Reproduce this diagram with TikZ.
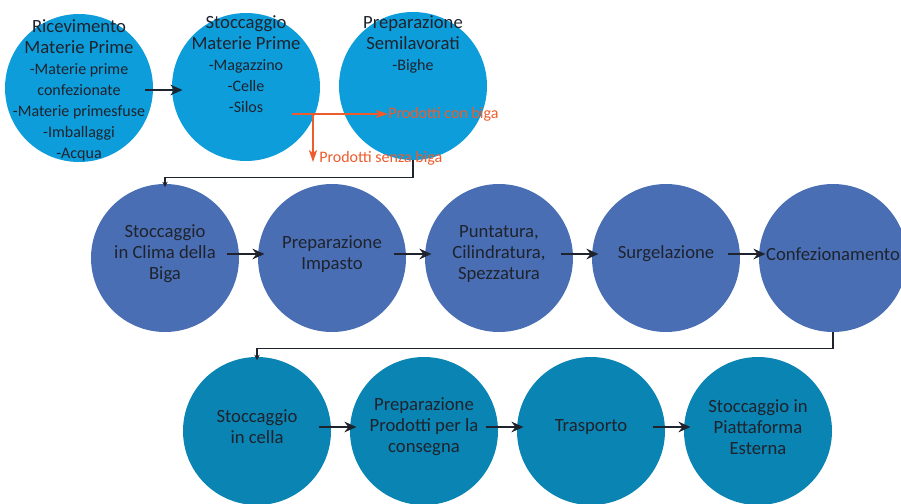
\documentclass[tikz,border=0pt]{standalone}
\usepackage{fontspec}
\setmainfont{Carlito}
\usetikzlibrary{arrows.meta}
\definecolor{rowa}{RGB}{13,157,219}
\definecolor{rowb}{RGB}{74,110,180}
\definecolor{rowc}{RGB}{10,132,178}
\definecolor{biga}{RGB}{237,92,45}
\definecolor{ink}{RGB}{30,35,45}
\newcommand{\itemfont}{\fontsize{12}{15.75}\selectfont}

\begin{document}
\begin{tikzpicture}[x=0.75pt, y=0.75pt,
  stage/.style={circle, minimum size=111pt, inner sep=0pt},
  lbl/.style={align=center, inner sep=0pt, text=ink, font=\fontsize{14}{15.75}\selectfont},
  note/.style={anchor=west, inner sep=0pt, text=biga, font=\fontsize{12}{14}\selectfont},
  flow/.style={->, >={Stealth[length=9pt, width=8pt, inset=3pt]}, line width=1.1pt, ink, shorten <=-9pt, shorten >=-5pt},
  branch/.style={->, >={Stealth[length=9pt, width=6pt, inset=2pt]}, line width=1.1pt, biga},
  link/.style={->, >={Stealth[length=4pt, width=4pt]}, line width=0.8pt, ink, shorten >=-2.5pt}]

\useasboundingbox (0,0) rectangle (901,-504);

\node[stage, fill=rowa] at (79,-88) (a) {};
\node[stage, fill=rowa] at (246,-87) (b) {};
\node[stage, fill=rowa] at (413,-86) (c) {};

\node[lbl, anchor=north] at (79,-19.5) (ta) {Ricevimento\\Materie Prime\\\itemfont -Materie prime\\\itemfont confezionate\\\itemfont -Materie primesfuse\\\itemfont -Imballaggi\\\itemfont -Acqua};
\node[lbl, anchor=north] at (246,-15.5) (tb) {Stoccaggio\\Materie Prime\\\itemfont -Magazzino\\\itemfont -Celle\\\itemfont -Silos};
\node[lbl, anchor=north] at (413,-15.5) (tc) {Preparazione\\Semilavorati\\\itemfont -Bighe};

\draw [flow, shorten <=-6pt, shorten >=-8pt] ([yshift=-1.5pt]a.east) -- ([yshift=-1.5pt]a.east -| b.west);

\node[note] at (388,-114) (pcb) {Prodotti con biga};
\node[note] at (319,-158) (psb) {Prodotti senza biga};
\coordinate (fork) at (292,-114);
\coordinate (drop) at (313,-114);
\draw [branch] (fork) -- (pcb.west);
\draw [branch] (drop) -- (drop |- psb.base);

\node[stage, fill=rowb] at (165,-258) (d) {};
\node[stage, fill=rowb] at (332,-258) (e) {};
\node[stage, fill=rowb] at (499,-258) (f) {};
\node[stage, fill=rowb] at (666,-258) (g) {};
\node[stage, fill=rowb] at (833,-258) (h) {};

\node[lbl] at (165,-254) (td) {Stoccaggio\\in Clima della\\Biga};
\node[lbl] at (332,-254) (te) {Preparazione\\Impasto};
\node[lbl] at (499,-254) (tf) {Puntatura,\\Cilindratura,\\Spezzatura};
\node[lbl] at (666,-254) (tg) {Surgelazione};
\node[lbl] at (833,-254) (th) {Confezionamento};

\draw [flow] ([yshift=3pt]d.east) -- ([yshift=3pt]e.west);
\draw [flow] ([yshift=3pt]e.east) -- ([yshift=3pt]f.west);
\draw [flow] ([yshift=3pt]f.east) -- ([yshift=3pt]g.west);
\draw [flow] ([yshift=3pt]g.east) -- ([yshift=3pt]h.west);

\node[stage, fill=rowc] at (257,-431) (i) {};
\node[stage, fill=rowc] at (424,-431) (j) {};
\node[stage, fill=rowc] at (591,-431) (k) {};
\node[stage, fill=rowc] at (758,-431) (l) {};

\node[lbl] at (257,-427) (ti) {Stoccaggio\\in cella};
\node[lbl] at (424,-427) (tj) {Preparazione\\Prodotti per la\\consegna};
\node[lbl] at (591,-427) (tk) {Trasporto};
\node[lbl] at (758,-427) (tl) {Stoccaggio in\\Piattaforma\\Esterna};

\draw [flow] ([yshift=3pt]i.east) -- ([yshift=3pt]j.west);
\draw [flow] ([yshift=3pt]j.east) -- ([yshift=3pt]k.west);
\draw [flow] ([yshift=3pt]k.east) -- ([yshift=3pt]l.west);

\draw [link] (c.south) -- ++(0,-17) -| (d.north);
\draw [link] (h.south) -- ++(0,-16) -| (i.north);

\end{tikzpicture}
\end{document}
